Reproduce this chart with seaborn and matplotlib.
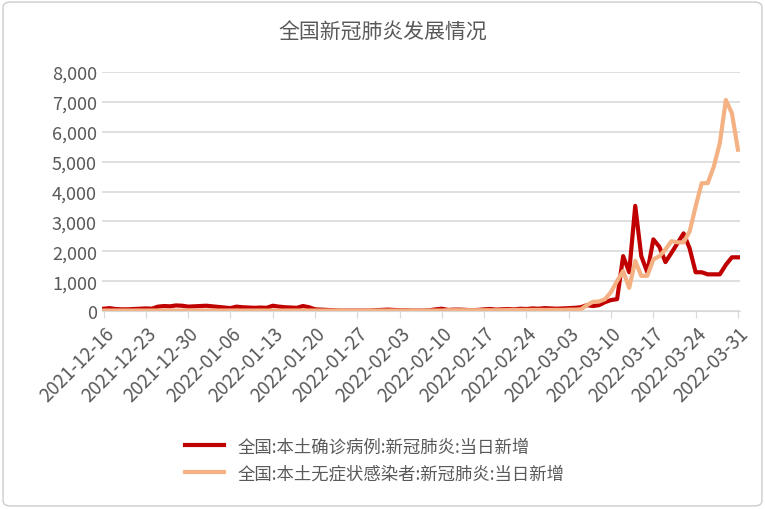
import matplotlib
matplotlib.use("Agg")
import matplotlib.pyplot as plt
import seaborn as sns
import pandas as pd
import numpy as np
from matplotlib.patches import FancyBboxPatch
from matplotlib.lines import Line2D

plt.rcParams["font.family"] = "Noto Sans CJK SC"

dates = pd.date_range("2021-12-16", "2022-03-31", freq="D")
confirmed = [80,100,70,60,60,70,80,90,80,150,170,160,190,180,150,160,
             170,180,160,140,120,100,150,130,120,110,120,110,180,150,130,120,110,170,130,60,50,40,30,20,20,20,20,20,20,30,40,
             50,40,30,30,20,20,20,30,60,80,40,50,50,40,30,40,60,70,50,60,70,60,80,70,90,80,100,90,
             80,90,
             100,110,130,200,170,200,300,370,400,1840,1300,3520,1840,1300,2400,2150,1640,1950,2270,2600,2100,1300,1300,1230,1230,1230,1550,1800,1800]
asymptomatic = [20,20,20,20,20,20,20,20,20,20,20,20,20,20,20,20,
                20,20,20,20,20,20,20,20,20,20,20,20,20,20,20,20,20,20,20,20,20,20,20,20,20,20,20,20,20,20,20,
                20,20,20,20,20,20,20,20,20,20,30,30,30,30,30,30,30,30,30,30,40,40,40,40,40,40,40,40,
                40,40,
                50,50,60,200,310,320,400,640,1010,1340,780,1680,1180,1180,1730,1840,2060,2340,2300,2300,2660,3500,4280,4280,4830,5620,7060,6620,5400]
names = ["全国:本土确诊病例:新冠肺炎:当日新增", "全国:本土无症状感染者:新冠肺炎:当日新增"]

df = pd.DataFrame({"date": list(dates) * 2,
                   "value": confirmed + asymptomatic,
                   "series": [names[0]] * len(dates) + [names[1]] * len(dates)})

fig = plt.figure(figsize=(7.65, 5.1), dpi=100)
fig.patches.append(FancyBboxPatch((0.004, 0.006), 0.992, 0.988, boxstyle="round,pad=0,rounding_size=0.01",
                                  transform=fig.transFigure, fill=False, edgecolor="#cccccc", lw=1))
ax = fig.add_axes([0.133, 0.388, 0.834, 0.469])
sns.lineplot(data=df, x="date", y="value", hue="series", palette=["#c00000", "#f4b183"],
             linewidth=3, ax=ax, legend=False)

ax.set_ylim(0, 8000)
ax.set_yticks(range(0, 8001, 1000))
ax.set_yticklabels([f"{v:,}" for v in range(0, 8001, 1000)], color="#595959", fontsize=13)
ticks = pd.date_range("2021-12-16", "2022-03-31", freq="7D")
ax.set_xticks(ticks)
ax.set_xticklabels([d.strftime("%Y-%m-%d") for d in ticks], rotation=45, ha="right",
                   rotation_mode="anchor", color="#595959", fontsize=13.5)
ax.set_xlim(dates[0] - pd.Timedelta(days=0.3), dates[-1] + pd.Timedelta(days=0.3))
ax.set_xlabel(""); ax.set_ylabel("")
ax.grid(axis="y", color="#d9d9d9", lw=1.2)
ax.set_axisbelow(True)
for s in ["top", "right", "left"]:
    ax.spines[s].set_visible(False)
ax.spines["bottom"].set_color("#d9d9d9")
ax.tick_params(axis="y", length=0)
ax.tick_params(axis="x", color="#d9d9d9", length=5)

fig.text(0.5, 0.935, "全国新冠肺炎发展情况", ha="center", va="center", fontsize=15, color="#595959")
handles = [Line2D([], [], color="#c00000", lw=3), Line2D([], [], color="#f4b183", lw=3)]
fig.legend(handles, names, loc="center", bbox_to_anchor=(0.49, 0.097), frameon=False,
           fontsize=12.5, labelcolor="#595959", handlelength=2.2, labelspacing=0.5)
fig.savefig("out.png", dpi=100)
